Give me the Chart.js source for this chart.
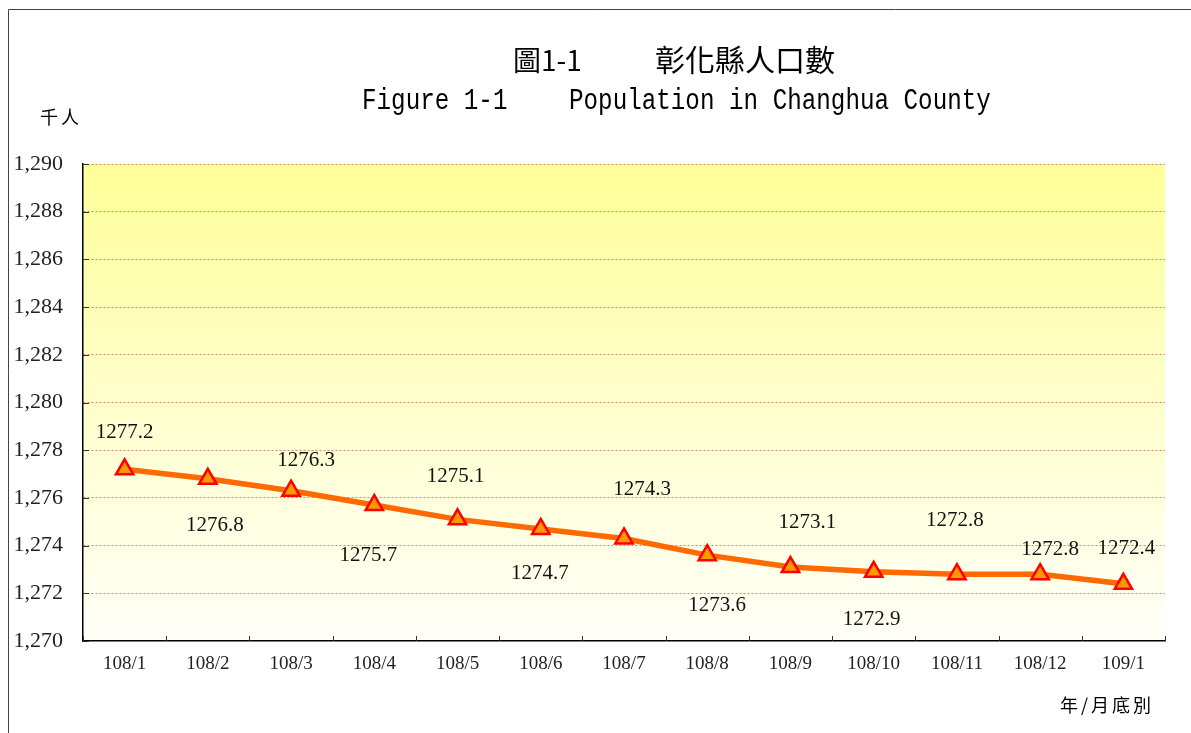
<!DOCTYPE html>
<html>
<head>
<meta charset="utf-8">
<script src="https://cdn.jsdelivr.net/npm/chart.js@4/dist/chart.umd.min.js"></script>
<style>
  html, body { margin: 0; padding: 0; background: #fff; }
  #wrap { width: 1191px; height: 733px; position: relative; }
</style>
</head>
<body>
<div id="wrap"><canvas id="popChart"></canvas></div>
<script>
// months (ROC year / month end)
const months = ["108/1", "108/2", "108/3", "108/4", "108/5", "108/6", "108/7",
                "108/8", "108/9", "108/10", "108/11", "108/12", "109/1"];
// population, thousand persons
const population = [1277.2, 1276.8, 1276.3, 1275.7, 1275.1, 1274.7, 1274.3,
                    1273.6, 1273.1, 1272.9, 1272.8, 1272.8, 1272.4];
const yTicks = [1270, 1272, 1274, 1276, 1278, 1280, 1282, 1284, 1286, 1288, 1290];

const titleZh = ["圖1-1", "彰化縣人口數"];
const titleEn = ["Figure 1-1", "Population in Changhua County"];
const yUnit = "千人";
const xUnit = "年/月底別";

// label offsets from each point [dx, dy] - hand placed like the original
const labelOffsets = [[0, -37], [7, 47], [15, -30], [-6, 50], [-2, -43], [-1, 45], [18, -49],
                      [10, 50], [17, -45], [-2, 48], [-2, -54], [10, -25], [3, -35]];

// fills plot with yellow -> white gradient, draws frame & texts
const decorPlugin = {
  id: "decor",
  beforeDraw(chart) {
    const { ctx, chartArea: a } = chart;
    ctx.save();
    const g = ctx.createLinearGradient(0, a.top, 0, a.bottom);
    g.addColorStop(0, "#ffff99");
    g.addColorStop(0.5, "#ffffcc");
    g.addColorStop(1, "#fffff8");
    ctx.fillStyle = g;
    ctx.fillRect(a.left, a.top, a.right - a.left, a.bottom - a.top);

    // outer frame
    ctx.strokeStyle = "#444";
    ctx.lineWidth = 1;
    ctx.beginPath();
    ctx.moveTo(8.5, 733);
    ctx.lineTo(8.5, 9.5);
    ctx.lineTo(1191, 9.5);
    ctx.stroke();

    // titles
    ctx.fillStyle = "#000";
    ctx.textBaseline = "alphabetic";
    ctx.textAlign = "left";
    ctx.font = '28px "Noto Sans CJK TC"';
    ctx.fillText(titleZh[0], 513, 71);
    ctx.font = '30px "Noto Sans CJK TC"';
    ctx.fillText(titleZh[1], 655, 71);

    ctx.save();
    ctx.scale(1.01, 1.22);
    ctx.font = '24px "Liberation Mono"';
    ctx.fillText(titleEn[0], 362 / 1.01, 109 / 1.22);
    ctx.fillText(titleEn[1], 569 / 1.01, 109 / 1.22);
    ctx.restore();

    ctx.font = '18px "Noto Sans CJK TC"';
    ctx.letterSpacing = "3px";
    ctx.fillText(yUnit, 40, 124);
    ctx.fillText(xUnit, 1060, 712);
    ctx.restore();
  },
  afterDatasetsDraw(chart) {
    const { ctx } = chart;
    const meta = chart.getDatasetMeta(0);
    ctx.save();
    ctx.font = '21px "Liberation Serif"';
    ctx.fillStyle = "#111";
    ctx.textAlign = "center";
    ctx.textBaseline = "middle";
    meta.data.forEach((pt, i) => {
      const off = labelOffsets[i];
      ctx.fillText(population[i].toFixed(1), pt.x + off[0], pt.y + off[1]);
    });
    ctx.restore();
  },
  afterDraw(chart) {
    // small inward tick marks on both axes
    const { ctx, chartArea: a, scales } = chart;
    ctx.save();
    ctx.strokeStyle = "#333";
    ctx.lineWidth = 1;
    ctx.beginPath();
    yTicks.forEach(v => {
      const y = Math.round(scales.y.getPixelForValue(v)) + 0.5;
      ctx.moveTo(a.left, y);
      ctx.lineTo(a.left + 6, y);
    });
    const step = scales.x.getPixelForValue(1) - scales.x.getPixelForValue(0);
    for (let i = 0; i <= months.length; i++) {
      const x = Math.round(scales.x.getPixelForValue(0) - step / 2 + i * step) + 0.5;
      ctx.moveTo(x, a.bottom);
      ctx.lineTo(x, a.bottom - 5);
    }
    ctx.stroke();
    ctx.restore();
  }
};

new Chart(document.getElementById("popChart"), {
  type: "line",
  data: {
    labels: months,
    datasets: [{
      data: population,
      borderColor: "#ff6a00",
      borderWidth: 5.5,
      tension: 0,
      pointStyle: "triangle",
      pointRadius: 10,
      pointHoverRadius: 10,
      pointBackgroundColor: "#ff9900",
      pointBorderColor: "#ff0000",
      pointBorderWidth: 2.5
    }]
  },
  options: {
    responsive: true,
    maintainAspectRatio: false,
    animation: false,
    layout: { padding: { top: 164, right: 26, left: 0, bottom: 0 } },
    plugins: {
      legend: { display: false },
      title: { display: false },
      tooltip: { enabled: false }
    },
    scales: {
      x: {
        offset: true,
        afterFit: s => { s.height = 92; },
        grid: { offset: true, drawOnChartArea: false, drawTicks: false },
        border: { color: "#000", width: 1.5 },
        ticks: { color: "#222", padding: 12, font: { family: "Liberation Serif", size: 19 } }
      },
      y: {
        min: 1270,
        max: 1290,
        afterFit: s => { s.width = 83; },
        afterBuildTicks: s => { s.ticks = yTicks.map(v => ({ value: v })); },
        grid: {
          color: ctx => ctx.tick && ctx.tick.value === 1270 ? "rgba(0,0,0,0)" : "#c98a6e",
          lineWidth: 1,
          drawTicks: false
        },
        // in v4 border.dash styles the grid lines
        border: { color: "#000", width: 1.5, dash: [2, 2] },
        ticks: {
          color: "#222",
          padding: 20,
          font: { family: "Liberation Serif", size: 22 },
          callback: v => v.toLocaleString("en-US")
        }
      }
    }
  },
  plugins: [decorPlugin]
});
</script>
</body>
</html>
